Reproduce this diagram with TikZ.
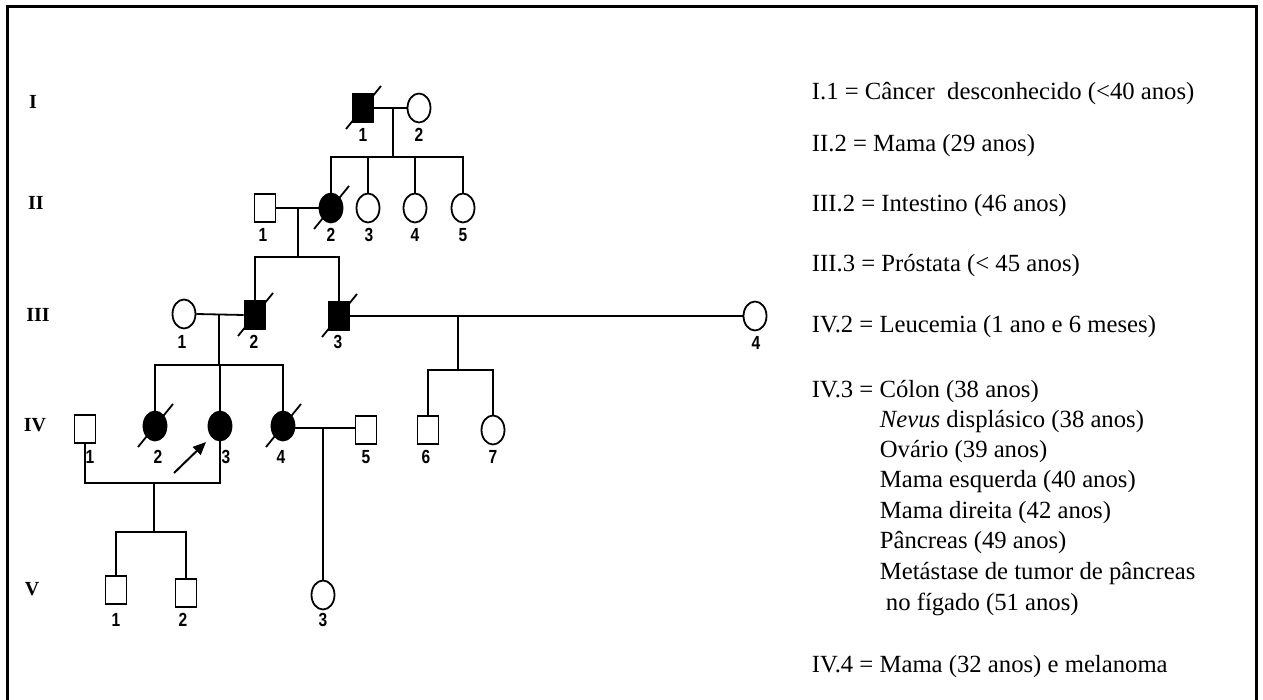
\documentclass[tikz,border=0pt]{standalone}
\usepackage{fontspec}
\setmainfont{Liberation Serif}
\newfontfamily\numfont{Liberation Sans}[FakeStretch=0.82]
\usetikzlibrary{shapes.geometric,arrows.meta}
\newcommand\deceasedmark[1]{\draw ([shift={(-17,21)}]#1.center) -- ([shift={(18,-22)}]#1.center);}
\begin{document}
\begin{tikzpicture}[x=1pt,y=-1pt, line width=1.8pt,
  male/.style={draw, rectangle, minimum width=21pt, minimum height=28pt, inner sep=0pt},
  female/.style={draw, ellipse, minimum width=23pt, minimum height=29pt, inner sep=0pt},
  aff/.style={fill=black},
  num/.style={font=\numfont\bfseries\fontsize{19}{19}\selectfont, inner sep=0pt},
  gen/.style={font=\bfseries\fontsize{20}{20}\selectfont, inner sep=0pt},
  leg/.style={font=\fontsize{24.7}{30}\selectfont, anchor=base west, inner sep=0pt},
  frame/.style={line width=3pt}]
\useasboundingbox (0,0) rectangle (1263,700);
% frame (open at bottom)
\draw[frame] (7,702) -- (7,7) -- (1256,7) -- (1256,702);

% generation labels
\node[gen] (gI) at (33,102) {I};
\node[gen] (gII) at (36,203) {II};
\node[gen] (gIII) at (38,315) {III};
\node[gen] (gIV) at (35,425) {IV};
\node[gen] (gV) at (32,589) {V};

% generation I
\node[male,aff] (I1) at (363,108) {};
\node[female] (I2) at (419,108) {};
\deceasedmark{I1}
\node[num] (nI1) at (363,135) {1};
\node[num] (nI2) at (419,135) {2};

% generation II
\node[male] (II1) at (265,208) {};
\node[female,aff] (II2) at (331,208) {};
\node[female] (II3) at (368,208) {};
\node[female] (II4) at (415,208) {};
\node[female] (II5) at (463,208) {};
\deceasedmark{II2}
\node[num] (nII1) at (263,235) {1};
\node[num] (nII2) at (331,235) {2};
\node[num] (nII3) at (369,235) {3};
\node[num] (nII4) at (415,235) {4};
\node[num] (nII5) at (463,235) {5};

% generation III
\node[female] (III1) at (184,314) {};
\node[male,aff] (III2) at (255,315) {};
\node[male,aff] (III3) at (339,316) {};
\node[female] (III4) at (755,316) {};
\deceasedmark{III2}
\deceasedmark{III3}
\node[num] (nIII1) at (182,342) {1};
\node[num] (nIII2) at (254,342) {2};
\node[num] (nIII3) at (338,342) {3};
\node[num] (nIII4) at (756,343) {4};

% generation IV
\node[male] (IV1) at (85,429) {};
\node[female,aff] (IV2) at (155,426) {};
\node[female,aff] (IV3) at (220,426) {};
\node[female,aff] (IV4) at (283,426) {};
\node[male] (IV5) at (366,430) {};
\node[male] (IV6) at (428,430) {};
\node[female] (IV7) at (493,430) {};
\deceasedmark{IV2}
\deceasedmark{IV4}
\node[num] (nIV1) at (90,457) {1};
\node[num] (nIV2) at (158,457) {2};
\node[num] (nIV3) at (226,457) {3};
\node[num] (nIV4) at (281,457) {4};
\node[num] (nIV5) at (366,457) {5};
\node[num] (nIV6) at (426,457) {6};
\node[num] (nIV7) at (493,457) {7};

% generation V
\node[male] (V1) at (116,590) {};
\node[male] (V2) at (186,593) {};
\node[female] (V3) at (323,595) {};
\node[num] (nV1) at (116,620) {1};
\node[num] (nV2) at (183,620) {2};
\node[num] (nV3) at (323,620) {3};

% helper coordinates
\coordinate (mI) at (393,108);
\coordinate (sII) at (393,157);
\coordinate (mII) at (298,208);
\coordinate (sIII) at (298,257);
\coordinate (mIIIa) at (219,314);
\coordinate (sIVa) at (219,365);
\coordinate (mIIIb) at (458,316);
\coordinate (sIVb) at (458,370);
\coordinate (mIVa) at (154,483);
\coordinate (sV) at (154,532);
\coordinate (mIVb) at (323,428);

% connectors I
\draw (I1.east) -- (I2.west);
\draw (mI) -- (sII);
\draw (II2.north) |- (II5.north |- sII) -- (II5.north);
\draw (II3.north) -- (II3.north |- sII);
\draw (II4.north) -- (II4.north |- sII);
% connectors II
\draw (II1.east) -- (II2.west);
\draw (mII) -- (sIII);
\draw (III2.north) |- (III3.north |- sIII) -- (III3.north);
% connectors III
\draw (III1.east) -- (III2.west);
\draw (mIIIa) -- (sIVa);
\draw (IV2.north) |- (IV4.north |- sIVa) -- (IV4.north);
\draw (IV3.north) -- (IV3.north |- sIVa);
\draw (III3.east) -- (III4.west);
\draw (mIIIb) -- (sIVb);
\draw (IV6.north) |- (IV7.north |- sIVb) -- (IV7.north);
% connectors IV
\draw (IV1.south) |- (IV3.south |- mIVa) -- (IV3.south);
\draw (mIVa) -- (sV);
\draw (V1.north) |- (V2.north |- sV) -- (V2.north);
\draw (IV4.east |- mIVb) -- (IV5.west |- mIVb);
\draw (mIVb) -- (V3.north);

% proband arrow
\coordinate (arrA) at (174,473);
\coordinate (arrB) at (206,442);
\draw[line width=2pt, -{Triangle[length=13pt,width=11pt]}] (arrA) -- (arrB);

% legend
\node[leg] (L1) at (811,100) {I.1 = Câncer\ \ desconhecido (<40 anos)};
\node[leg] (L2) at (811,152) {II.2 = Mama (29 anos)};
\node[leg] (L3) at (811,212) {III.2 = Intestino (46 anos)};
\node[leg] (L4) at (811,272) {III.3 = Próstata (< 45 anos)};
\node[leg] (L5) at (811,333) {IV.2 = Leucemia (1 ano e 6 meses)};
\node[leg] (L6) at (811,397) {IV.3 = Cólon (38 anos)};
\node[leg] (L7) at (879,427) {\textit{Nevus} displásico (38 anos)};
\node[leg] (L8) at (879,457) {Ovário (39 anos)};
\node[leg] (L9) at (879,487) {Mama esquerda (40 anos)};
\node[leg] (L10) at (879,518) {Mama direita (42 anos)};
\node[leg] (L11) at (879,548) {Pâncreas (49 anos)};
\node[leg] (L12) at (879,579) {Metástase de tumor de pâncreas};
\node[leg] (L13) at (885,610) {no fígado (51 anos)};
\node[leg] (L14) at (811,672) {IV.4 = Mama (32 anos) e melanoma};
\end{tikzpicture}
\end{document}
